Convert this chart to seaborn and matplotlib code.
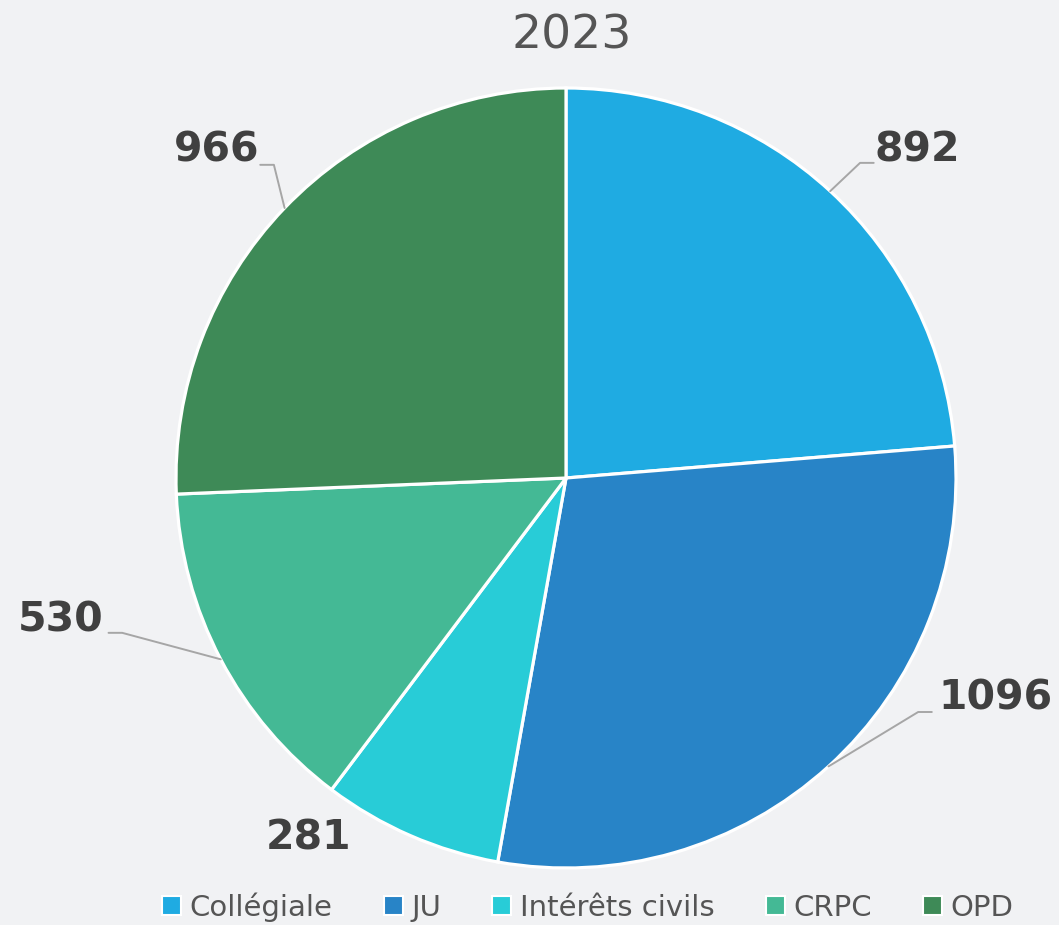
import numpy as np
import matplotlib
matplotlib.use("Agg")
import matplotlib.pyplot as plt
import seaborn as sns
from matplotlib.patches import Patch

# ---- data ----
title = "2023"
categories = ["Collégiale", "JU", "Intérêts civils", "CRPC", "OPD"]
values = [892, 1096, 281, 530, 966]
colors = ["#1fabe2", "#2884c7", "#28ccd7", "#44b995", "#3e8a57"]

# label layout (annotation placement in axes units): elbow point, text anchor, alignment
label_layout = [
    dict(elbow=(0.754, 0.808), text=(0.79, 0.84), ha="left", line=True),
    dict(elbow=(0.903, -0.600), text=(0.955, -0.565), ha="left", line=True),
    dict(elbow=None, text=(-0.55, -0.925), ha="right", line=False),
    dict(elbow=(-1.138, -0.397), text=(-1.185, -0.365), ha="right", line=True),
    dict(elbow=(-0.749, 0.803), text=(-0.785, 0.84), ha="right", line=True),
]

bg = "#f1f2f4"
sns.set_theme(style="white")
plt.rcParams["font.family"] = ["DejaVu Sans"]

fig = plt.figure(figsize=(10.59, 9.25), dpi=100, facecolor=bg)
ax = fig.add_axes([176 / 1059, (925 - 868) / 925, 780 / 1059, 780 / 925])
ax.set_facecolor(bg)

wedges, _ = ax.pie(values, colors=colors, startangle=90, counterclock=False,
                   radius=1.0, wedgeprops=dict(edgecolor="white", linewidth=2.3))
ax.set_xlim(-1, 1)
ax.set_ylim(-1, 1)
ax.set_aspect("equal")
ax.axis("off")

total = float(sum(values))
start = 90.0
for v, lay in zip(values, label_layout):
    sweep = v / total * 360.0
    mid = np.deg2rad(start - sweep / 2)
    start -= sweep
    ex, ey = np.cos(mid), np.sin(mid)
    if lay["line"]:
        bx, by = lay["elbow"]
        sign = 1 if lay["ha"] == "left" else -1
        ax.plot([ex, bx, bx + sign * 0.035], [ey, by, by], color="#a6a6a6",
                lw=1.4, clip_on=False, zorder=1)
    ax.text(lay["text"][0], lay["text"][1], f"{v}", ha=lay["ha"], va="center",
            fontsize=29.5, fontweight="bold", color="#404040", clip_on=False)

fig.text(572 / 1059, 1 - 36 / 925, title, ha="center", va="center",
         fontsize=34, color="#555555")

handles = [Patch(facecolor=c, edgecolor="white", linewidth=1.5) for c in colors]
leg = fig.legend(handles, categories, loc="center", bbox_to_anchor=(588 / 1059, 1 - 907 / 925),
                 ncol=5, frameon=False, fontsize=21, handlelength=0.65, handleheight=0.65,
                 handletextpad=0.3, columnspacing=1.75, labelcolor="#555555")

fig.savefig("out.png", dpi=100, facecolor=bg)
